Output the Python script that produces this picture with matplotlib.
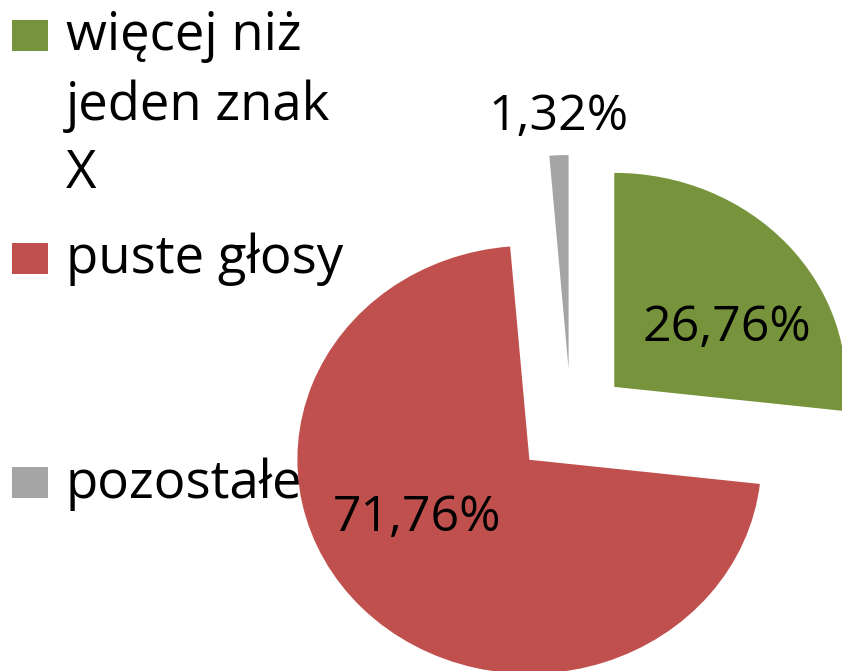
import matplotlib
matplotlib.use("Agg")
import matplotlib.pyplot as plt
from matplotlib.patches import Rectangle

# Dane
kategorie = ["więcej niż\njeden znak\nX", "puste głosy", "pozostałe"]
udzialy = [26.76, 71.76, 1.32]
etykiety = ["26,76%", "71,76%", "1,32%"]
kolory = ["#77933C", "#C0504D", "#A5A5A5"]

W, H = 842, 671
plt.rcParams["font.family"] = ["Open Sans", "DejaVu Sans"]

fig = plt.figure(figsize=(W / 100, H / 100), dpi=100)
ax = fig.add_axes([0, 0, 1, 1])
ax.axis("off")

# pie, rozsuniety, lekko rozciagniety w poziomie jak w oryginale
rx, ry = 232, 214
cx, cy = 571, 422.5
wedges, _ = ax.pie(udzialy, colors=kolory, startangle=90, counterclock=False,
                   explode=[0.25] * len(udzialy), radius=1,
                   wedgeprops=dict(linewidth=0, zorder=2))
ax.set_aspect("auto")
ax.set_xlim(-cx / rx, (W - cx) / rx)
ax.set_ylim(-(H - cy) / ry, cy / ry)

def px(x, y):
    return x / W, 1 - y / H

# etykiety procentowe
pozycje = [(727, 328), (417, 518), (559, 117)]
for txt, (x, y) in zip(etykiety, pozycje):
    ax.text(*px(x, y), txt, transform=ax.transAxes, ha="center", va="center",
            fontsize=36, color="black", zorder=3)

# legenda (pod wykresem, czesciowo zasloniona)
legenda = [(20, [50, 120, 188]), (243, [273]), (467, [498])]
for kol, kat, (sq_top, baselines) in zip(kolory, kategorie, legenda):
    ax.add_patch(Rectangle(px(12, sq_top + 31), 36 / W, 31 / H,
                           transform=ax.transAxes, facecolor=kol,
                           edgecolor="none", zorder=0, clip_on=False))
    for linia, b in zip(kat.split("\n"), baselines):
        ax.text(*px(66, b), linia, transform=ax.transAxes, ha="left",
                va="baseline", fontsize=38, color="black", zorder=0)

fig.savefig("out.png", dpi=100)
